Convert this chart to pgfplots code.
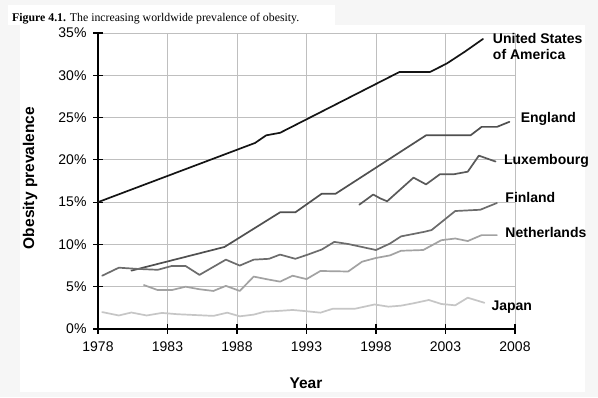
\documentclass[border=0pt]{standalone}
\usepackage{pgfplots}
\pgfplotsset{compat=1.18}
\usepackage{fontspec}
\setmainfont{Liberation Sans}
\newfontfamily\serif{Liberation Serif}
\definecolor{bg}{HTML}{F6F6F6}
\definecolor{grid}{HTML}{C8C8C8}
\definecolor{usa}{HTML}{141414}
\definecolor{eng}{HTML}{505050}
\definecolor{lux}{HTML}{5A5A5A}
\definecolor{fin}{HTML}{6C6C6C}
\definecolor{ned}{HTML}{A2A2A2}
\definecolor{jap}{HTML}{C6C6C6}
\begin{document}
\begin{tikzpicture}[x=1pt,y=1pt]
\fill[bg] (0,0) rectangle (598,397);
\fill[white] (20,5) rectangle (585,372);
\fill[white] (8,372) rectangle (335,392);
\path[use as bounding box] (0,0) rectangle (598,397);
\node[anchor=base west, inner sep=0, font=\serif\fontsize{11.8}{13}\selectfont] at (12,375) {\textbf{Figure 4.1.} The increasing worldwide prevalence of obesity.};
\node[rotate=90, font=\bfseries\fontsize{15.5}{17}\selectfont] at (30,219) {Obesity prevalence};
\node[font=\bfseries\fontsize{15.5}{17}\selectfont] at (306,14) {Year};
\begin{axis}[
  at={(98pt,68pt)}, anchor=south west,
  scale only axis, width=417pt, height=296pt,
  xmin=1978, xmax=2008, ymin=0, ymax=35,
  xtick={1978,1983,...,2008}, ytick={0,5,...,35},
  axis x line=bottom, axis y line=left,
  axis line style={-, line width=1.3pt, black},
  tick style={line width=1.1pt, black},
  tick align=center, major tick length=10pt,
  ymajorgrids, major grid style={grid, line width=0.9pt},
  /pgf/number format/assume math mode=true,
  /pgf/number format/1000 sep={},
  yticklabel={\pgfmathprintnumber{\tick}\%},
  tick label style={font=\fontsize{14}{16}\selectfont},
  yticklabel style={xshift=-3pt},
  xticklabel style={yshift=-4pt},
  clip=false,
  every axis plot/.append style={line width=1.7pt, line join=round, line cap=round, mark=none},
]
% USA
\addplot[usa] coordinates {(1978,15.0) (1989.3,22.0) (1990.1,22.9) (1991.1,23.2) (1999.7,30.4) (2001.9,30.4) (2003.1,31.4) (2004.4,32.8) (2005.7,34.3)};
% England
\addplot[eng] coordinates {(1980.4,6.9) (1987.1,9.7) (1991.1,13.8) (1992.2,13.8) (1994.1,16.0) (1995.1,16.0) (2001.6,22.9) (2004.8,22.9) (2005.6,23.9) (2006.7,23.9) (2007.6,24.5)};
% Luxembourg
\addplot[lux] coordinates {(1996.8,14.7) (1997.8,15.9) (1998.3,15.45) (1998.8,15.1) (2000.7,17.9) (2001.6,17.1) (2002.6,18.3) (2003.6,18.3) (2004.6,18.6) (2005.4,20.5) (2006.6,19.8)};
% Finland
\addplot[fin] coordinates {(1978.3,6.3) (1979.5,7.25) (1980.9,7.1) (1982.3,7.0) (1983.3,7.45) (1984.3,7.45) (1985.3,6.4) (1987.2,8.2) (1988.2,7.5) (1989.2,8.2) (1990.3,8.3) (1991.1,8.8) (1992.2,8.3) (1993.1,8.8) (1994.1,9.4) (1995.0,10.3) (1996.0,10.05) (1998.0,9.34) (1999.0,10.1) (1999.8,10.95) (2001.5,11.5) (2002.0,11.7) (2003.7,13.95) (2005.5,14.1) (2006.7,14.9)};
% Netherlands
\addplot[ned] coordinates {(1981.3,5.2) (1982.3,4.6) (1983.3,4.6) (1984.3,5.0) (1985.3,4.7) (1986.3,4.5) (1987.2,5.1) (1988.2,4.5) (1989.2,6.2) (1990.1,5.9) (1991.1,5.6) (1992.0,6.3) (1993.0,5.9) (1994.0,6.86) (1996.0,6.8) (1997.0,7.96) (1998.0,8.4) (1999.0,8.7) (1999.8,9.25) (2001.4,9.34) (2002.7,10.5) (2003.7,10.7) (2004.6,10.4) (2005.6,11.1) (2006.7,11.1)};
% Japan
\addplot[jap] coordinates {(1978.3,2.0) (1979.5,1.6) (1980.4,1.95) (1981.5,1.6) (1982.6,1.9) (1983.7,1.75) (1985.0,1.65) (1986.3,1.55) (1987.3,1.93) (1988.2,1.5) (1989.2,1.7) (1990.0,2.05) (1991.1,2.15) (1992.0,2.25) (1993.0,2.1) (1994.0,1.93) (1994.9,2.4) (1996.5,2.4) (1997.9,2.9) (1998.9,2.64) (1999.8,2.76) (2000.7,3.04) (2001.8,3.43) (2002.7,2.96) (2003.7,2.8) (2004.6,3.7) (2005.8,3.1)};
\tikzset{lab/.style={anchor=west, inner sep=0, font=\bfseries\fontsize{14}{15.5}\selectfont}}
\node[lab, align=left] at (axis cs:2006.4,33.4) {United States\\of America};
\node[lab] at (axis cs:2008.4,24.8) {England};
\node[lab] at (axis cs:2007.2,19.9) {Luxembourg};
\node[lab] at (axis cs:2007.3,15.5) {Finland};
\node[lab] at (axis cs:2007.3,11.4) {Netherlands};
\node[lab] at (axis cs:2006.3,2.6) {Japan};
\end{axis}
\end{tikzpicture}
\end{document}
